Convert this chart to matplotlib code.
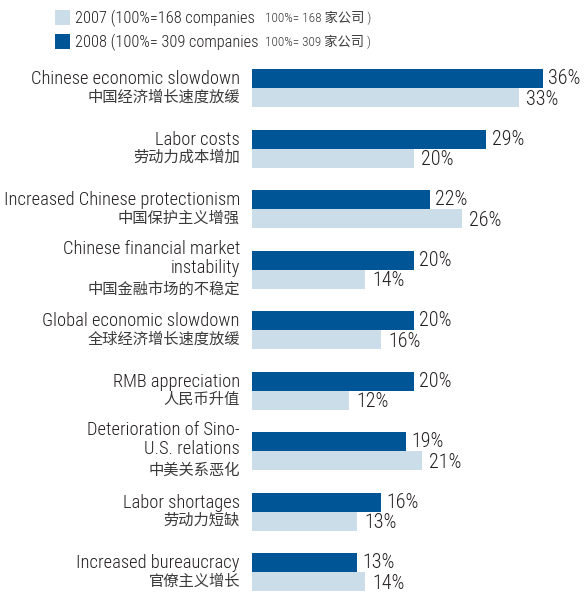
import matplotlib.pyplot as plt
from matplotlib.patches import Rectangle

plt.rcParams['font.family'] = ['Roboto Condensed', 'Noto Sans CJK SC', 'DejaVu Sans']
plt.rcParams['font.weight'] = 300

# データ（%）
labels_en = [
    'Chinese economic slowdown',
    'Labor costs',
    'Increased Chinese protectionism',
    'Chinese financial market\ninstability',
    'Global economic slowdown',
    'RMB appreciation',
    'Deterioration of Sino-\nU.S. relations',
    'Labor shortages',
    'Increased bureaucracy',
]
labels_cn = [
    '中国经济增长速度放缓',
    '劳动力成本增加',
    '中国保护主义增强',
    '中国金融市场的不稳定',
    '全球经济增长速度放缓',
    '人民币升值',
    '中美关系恶化',
    '劳动力短缺',
    '官僚主义增长',
]
v2008 = [36, 29, 22, 20, 20, 20, 19, 16, 13]
v2007 = [33, 20, 26, 14, 16, 12, 21, 13, 14]

dark = '#005596'
light = '#cadde9'
txt = '#231f20'
txt_cn = '#3a3a3a'

W, H = 584, 592
fig = plt.figure(figsize=(W / 100, H / 100), dpi=100)

# 軸の配置（ピクセル基準）
px_per_unit = 60.5
x0, xscale = 252, 8.08
ax = fig.add_axes([x0 / W, 0, 40 * xscale / W, 534 / H])
ax.set_xlim(0, 40)
ax.set_ylim(8.33, -0.5)
ax.axis('off')

h = 19 / px_per_unit
ys = list(range(len(v2008)))
ax.barh([y - h / 2 for y in ys], v2008, height=h, color=dark, edgecolor='none')
ax.barh([y + h / 2 for y in ys], v2007, height=h, color=light, edgecolor='none')

def px(p):
    return p / px_per_unit

xlab = (240 - x0) / xscale
for y, en, cn, a, b in zip(ys, labels_en, labels_cn, v2008, v2007):
    lines = en.split('\n')
    n = len(lines)
    last = y + px(-4 + 7 * (n - 1))
    for k, line in enumerate(lines):
        ax.text(xlab, last - px(19) * (n - 1 - k), line, ha='right', va='baseline',
                fontsize=13.3, color=txt, clip_on=False)
    ax.text(xlab, y + px(9 + 10.5 * (n - 1)), cn, ha='right', va='center',
            fontsize=11, color=txt_cn, family=['Noto Sans CJK SC'], fontweight='light',
            clip_on=False)
    ax.annotate(f'{a}%', (a, y - h / 2), xytext=(4, 0), textcoords='offset points',
                ha='left', va='center', fontsize=14.5, color=txt, annotation_clip=False)
    ax.annotate(f'{b}%', (b, y + h / 2 + px(1.5)), xytext=(5, 0), textcoords='offset points',
                ha='left', va='center', fontsize=14.5, color=txt, annotation_clip=False)

# 凡例
legend_rows = [
    (light, '2007 (100%=168 companies', '100%= 168 家公司 )', 10),
    (dark, '2008 (100%= 309 companies', '100%= 309 家公司 )', 34),
]
for col, t1, t2, top in legend_rows:
    fig.add_artist(Rectangle((55 / W, 1 - (top + 15) / H), 15 / W, 15 / H,
                             transform=fig.transFigure, color=col, lw=0))
    fig.text(75 / W, 1 - (top + 8) / H, t1, ha='left', va='center',
             fontsize=11.8, color=txt)
    fig.text(265 / W, 1 - (top + 8) / H, t2, ha='left', va='center',
             fontsize=9.5, color=txt_cn, family=['Roboto Condensed', 'Noto Sans CJK SC'])

plt.savefig('out.png', dpi=100)
